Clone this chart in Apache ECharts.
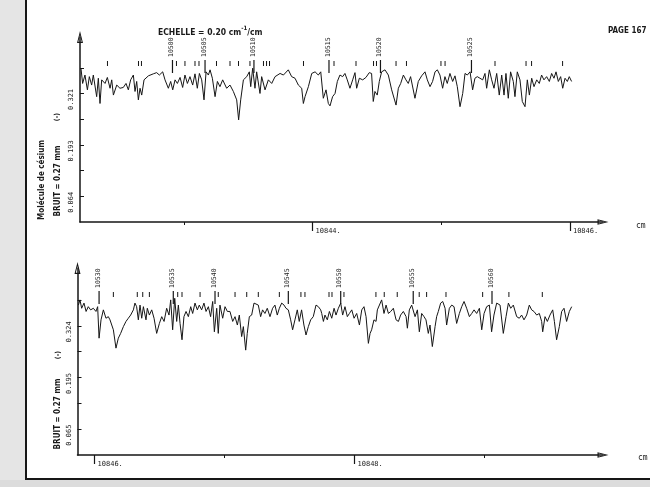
<!DOCTYPE html>
<html><head><meta charset="utf-8">
<script src="https://cdn.jsdelivr.net/npm/echarts@6/dist/echarts.min.js"></script>
<style>html,body{margin:0;padding:0;background:#fff}#c{width:650px;height:487px}</style>
</head><body><div id="c"></div>
<script>
// ---- data: wavenumber (cm-1), intensity ----
const topSpectrum = [[10842.201,0.384],[10842.214,0.346],[10842.232,0.367],[10842.251,0.330],[10842.266,0.363],[10842.284,0.342],[10842.297,0.367],[10842.323,0.313],[10842.336,0.359],[10842.349,0.296],[10842.362,0.355],[10842.388,0.346],[10842.406,0.361],[10842.427,0.334],[10842.440,0.355],[10842.453,0.317],[10842.479,0.342],[10842.504,0.334],[10842.530,0.336],[10842.551,0.346],[10842.569,0.330],[10842.587,0.355],[10842.608,0.367],[10842.621,0.326],[10842.634,0.351],[10842.647,0.305],[10842.660,0.334],[10842.673,0.317],[10842.691,0.355],[10842.725,0.365],[10842.763,0.370],[10842.789,0.373],[10842.810,0.367],[10842.836,0.375],[10842.854,0.355],[10842.880,0.334],[10842.898,0.351],[10842.914,0.330],[10842.932,0.355],[10842.950,0.346],[10842.971,0.361],[10842.991,0.336],[10843.009,0.367],[10843.028,0.346],[10843.048,0.363],[10843.069,0.342],[10843.087,0.370],[10843.105,0.334],[10843.121,0.371],[10843.139,0.355],[10843.157,0.305],[10843.173,0.375],[10843.191,0.367],[10843.204,0.380],[10843.222,0.359],[10843.243,0.313],[10843.261,0.351],[10843.281,0.338],[10843.302,0.355],[10843.333,0.334],[10843.359,0.342],[10843.385,0.326],[10843.411,0.305],[10843.426,0.255],[10843.442,0.305],[10843.463,0.355],[10843.489,0.363],[10843.509,0.375],[10843.520,0.338],[10843.535,0.384],[10843.553,0.334],[10843.566,0.375],[10843.592,0.321],[10843.605,0.363],[10843.631,0.330],[10843.657,0.355],[10843.683,0.346],[10843.709,0.363],[10843.748,0.371],[10843.774,0.367],[10843.812,0.380],[10843.838,0.363],[10843.864,0.359],[10843.890,0.342],[10843.916,0.334],[10843.929,0.296],[10843.942,0.313],[10843.968,0.338],[10843.994,0.371],[10844.020,0.375],[10844.045,0.367],[10844.064,0.375],[10844.084,0.309],[10844.105,0.330],[10844.123,0.296],[10844.136,0.290],[10844.156,0.313],[10844.175,0.321],[10844.193,0.351],[10844.213,0.367],[10844.234,0.363],[10844.252,0.371],[10844.270,0.355],[10844.291,0.334],[10844.312,0.355],[10844.330,0.373],[10844.343,0.334],[10844.364,0.359],[10844.390,0.355],[10844.415,0.361],[10844.441,0.373],[10844.459,0.371],[10844.472,0.301],[10844.485,0.326],[10844.503,0.317],[10844.519,0.351],[10844.537,0.375],[10844.563,0.380],[10844.589,0.367],[10844.615,0.330],[10844.649,0.292],[10844.667,0.334],[10844.685,0.346],[10844.706,0.367],[10844.726,0.355],[10844.744,0.346],[10844.762,0.363],[10844.796,0.309],[10844.822,0.351],[10844.848,0.365],[10844.874,0.375],[10844.892,0.355],[10844.913,0.338],[10844.933,0.351],[10844.952,0.375],[10844.970,0.380],[10844.990,0.367],[10845.011,0.334],[10845.029,0.363],[10845.047,0.346],[10845.068,0.371],[10845.089,0.351],[10845.107,0.365],[10845.125,0.338],[10845.146,0.288],[10845.167,0.321],[10845.185,0.371],[10845.203,0.367],[10845.224,0.375],[10845.244,0.330],[10845.262,0.359],[10845.280,0.363],[10845.301,0.359],[10845.322,0.355],[10845.340,0.371],[10845.353,0.334],[10845.374,0.380],[10845.392,0.355],[10845.410,0.334],[10845.431,0.371],[10845.451,0.317],[10845.470,0.367],[10845.488,0.317],[10845.503,0.371],[10845.521,0.309],[10845.539,0.375],[10845.560,0.351],[10845.573,0.313],[10845.591,0.375],[10845.612,0.355],[10845.630,0.301],[10845.651,0.288],[10845.669,0.355],[10845.685,0.317],[10845.703,0.359],[10845.721,0.338],[10845.742,0.355],[10845.762,0.346],[10845.780,0.367],[10845.798,0.355],[10845.819,0.363],[10845.840,0.351],[10845.858,0.371],[10845.876,0.359],[10845.892,0.375],[10845.910,0.351],[10845.928,0.363],[10845.944,0.334],[10845.962,0.359],[10845.980,0.351],[10845.995,0.363],[10846.013,0.351]];

const bottomSpectrum = [[10845.876,0.376],[10845.888,0.389],[10845.901,0.368],[10845.919,0.381],[10845.935,0.360],[10845.952,0.372],[10845.970,0.364],[10845.991,0.368],[10846.011,0.360],[10846.024,0.372],[10846.035,0.293],[10846.050,0.339],[10846.068,0.364],[10846.088,0.343],[10846.106,0.347],[10846.119,0.339],[10846.132,0.335],[10846.145,0.314],[10846.165,0.268],[10846.183,0.293],[10846.201,0.305],[10846.222,0.322],[10846.242,0.335],[10846.260,0.343],[10846.278,0.351],[10846.299,0.364],[10846.311,0.381],[10846.324,0.372],[10846.337,0.339],[10846.350,0.376],[10846.363,0.343],[10846.376,0.372],[10846.396,0.339],[10846.406,0.368],[10846.422,0.351],[10846.440,0.364],[10846.458,0.343],[10846.478,0.305],[10846.499,0.330],[10846.517,0.347],[10846.535,0.335],[10846.555,0.368],[10846.573,0.351],[10846.586,0.389],[10846.601,0.314],[10846.617,0.393],[10846.632,0.335],[10846.645,0.376],[10846.658,0.330],[10846.673,0.289],[10846.688,0.347],[10846.704,0.360],[10846.722,0.347],[10846.740,0.372],[10846.755,0.355],[10846.773,0.381],[10846.791,0.364],[10846.806,0.376],[10846.824,0.364],[10846.842,0.381],[10846.858,0.360],[10846.876,0.372],[10846.893,0.347],[10846.909,0.385],[10846.922,0.309],[10846.940,0.368],[10846.952,0.305],[10846.965,0.376],[10846.986,0.343],[10847.004,0.372],[10847.022,0.360],[10847.042,0.360],[10847.063,0.335],[10847.081,0.347],[10847.099,0.326],[10847.114,0.351],[10847.132,0.297],[10847.145,0.322],[10847.163,0.263],[10847.175,0.305],[10847.191,0.347],[10847.209,0.351],[10847.227,0.381],[10847.242,0.385],[10847.260,0.376],[10847.278,0.347],[10847.293,0.364],[10847.311,0.355],[10847.329,0.368],[10847.350,0.347],[10847.370,0.368],[10847.388,0.376],[10847.406,0.351],[10847.422,0.368],[10847.440,0.381],[10847.458,0.376],[10847.473,0.368],[10847.491,0.364],[10847.509,0.339],[10847.524,0.314],[10847.542,0.339],[10847.560,0.364],[10847.575,0.335],[10847.593,0.364],[10847.611,0.326],[10847.627,0.301],[10847.645,0.322],[10847.663,0.339],[10847.683,0.347],[10847.704,0.376],[10847.722,0.372],[10847.740,0.364],[10847.748,0.355],[10847.761,0.335],[10847.773,0.351],[10847.791,0.339],[10847.807,0.360],[10847.825,0.343],[10847.843,0.368],[10847.858,0.351],[10847.876,0.368],[10847.894,0.381],[10847.909,0.351],[10847.927,0.372],[10847.945,0.347],[10847.961,0.355],[10847.979,0.364],[10847.997,0.343],[10848.017,0.355],[10848.038,0.326],[10848.056,0.364],[10848.073,0.372],[10848.089,0.347],[10848.107,0.280],[10848.120,0.305],[10848.132,0.314],[10848.150,0.339],[10848.166,0.335],[10848.176,0.364],[10848.191,0.368],[10848.209,0.389],[10848.227,0.355],[10848.243,0.376],[10848.261,0.355],[10848.279,0.360],[10848.299,0.368],[10848.320,0.339],[10848.338,0.335],[10848.355,0.351],[10848.376,0.360],[10848.397,0.347],[10848.407,0.318],[10848.422,0.364],[10848.440,0.376],[10848.453,0.381],[10848.466,0.347],[10848.484,0.364],[10848.499,0.309],[10848.517,0.355],[10848.535,0.347],[10848.550,0.339],[10848.568,0.305],[10848.581,0.326],[10848.599,0.272],[10848.620,0.322],[10848.632,0.347],[10848.645,0.360],[10848.663,0.381],[10848.679,0.385],[10848.697,0.368],[10848.709,0.326],[10848.730,0.368],[10848.748,0.376],[10848.766,0.372],[10848.786,0.330],[10848.807,0.355],[10848.825,0.372],[10848.843,0.385],[10848.863,0.368],[10848.884,0.347],[10848.902,0.355],[10848.920,0.364],[10848.940,0.355],[10848.961,0.368],[10848.979,0.314],[10848.997,0.355],[10849.017,0.372],[10849.038,0.376],[10849.055,0.309],[10849.073,0.351],[10849.094,0.381],[10849.120,0.376],[10849.145,0.305],[10849.166,0.347],[10849.184,0.381],[10849.202,0.368],[10849.222,0.376],[10849.248,0.347],[10849.268,0.343],[10849.286,0.351],[10849.304,0.339],[10849.325,0.351],[10849.345,0.376],[10849.363,0.364],[10849.381,0.360],[10849.402,0.351],[10849.422,0.355],[10849.440,0.335],[10849.448,0.309],[10849.466,0.347],[10849.484,0.335],[10849.504,0.351],[10849.525,0.364],[10849.538,0.335],[10849.555,0.289],[10849.576,0.322],[10849.594,0.360],[10849.612,0.368],[10849.632,0.335],[10849.653,0.360],[10849.671,0.372]];

// line-position marks (cm-1)
const topMarks = [10842.407,10842.648,10842.671,10842.943,10843.009,10843.087,10843.118,10843.254,10843.359,10843.425,10843.514,10843.619,10843.643,10843.666,10843.930,10844.167,10844.338,10844.474,10844.497,10844.649,10844.730,10844.998,10845.030,10845.418,10845.659,10845.702,10845.943];
const topNumberedMarks = [10842.912,10843.165,10843.545,10844.128,10844.528,10845.235];
const topNumbers = ['10500','10505','10510','10515','10520','10525'];
const bottomMarks = [10846.145,10846.329,10846.371,10846.422,10846.640,10846.673,10846.812,10846.952,10847.081,10847.171,10847.260,10847.422,10847.588,10847.619,10847.804,10847.827,10847.919,10848.165,10848.229,10848.329,10848.498,10848.555,10848.704,10848.986,10849.188,10849.445];
const bottomNumberedMarks = [10846.035,10846.606,10846.927,10847.491,10847.894,10848.452,10849.058];
const bottomNumbers = ['10530','10535','10540','10545','10550','10555','10560'];

// axes
const topXRange = [10842.1935, 10846.257];
const bottomXRange = [10845.869, 10849.912];
const topXMajor = [10844, 10846];
const topXMinor = [10843, 10845];
const bottomXMajor = [10846, 10848];
const bottomXMinor = [10847, 10849];
const topYMax = 0.462, bottomYMax = 0.469;
const topYTicks = [0.0642,0.1284,0.1926,0.2568,0.321,0.3852];
const topYLabelValues = [0.0642,0.1926,0.321];
const topYLabelText = ['0.064','0.193','0.321'];
const bottomYTicks = [0.0648,0.1296,0.1944,0.2592,0.324,0.3888];
const bottomYLabelValues = [0.0648,0.1944,0.324];
const bottomYLabelText = ['0.065','0.195','0.324'];

const INK = '#161616';
const MONO = '"DejaVu Sans Mono", monospace';
const SANS = '"DejaVu Sans Condensed", "DejaVu Sans", sans-serif';
const ARROW = 'path://M5,0L10,20L0,20Z M5,6.5L2.2,17.8L7.8,17.8Z';

function xAxes(grid, range, major, minor) {
  return [{
    type: 'value', gridIndex: grid, position: 'bottom', min: range[0], max: range[1],
    axisLine: { show: true, onZero: false, symbol: ['none', ARROW], symbolSize: [7, 11], lineStyle: { color: INK, width: 1.5 } },
    axisTick: { show: true, customValues: major, length: 9, lineStyle: { color: INK, width: 1.2 } },
    axisLabel: { show: true, customValues: major, formatter: v => v + '.', align: 'left', margin: 6, padding: [0, 0, 0, 3], fontSize: 7, fontFamily: MONO, color: '#222' },
    splitLine: { show: false }
  }, {
    type: 'value', gridIndex: grid, position: 'bottom', min: range[0], max: range[1],
    axisLine: { show: false },
    axisTick: { show: true, customValues: minor, length: 3, lineStyle: { color: INK, width: 1 } },
    axisLabel: { show: false }, splitLine: { show: false }
  }];
}
function yAxis(grid, max, ticks, lv, lt) {
  return {
    type: 'value', gridIndex: grid, min: 0, max: max,
    axisLine: { show: true, onZero: false, symbol: ['none', ARROW], symbolSize: [7, 12], lineStyle: { color: INK, width: 1.5 } },
    axisTick: { show: true, customValues: ticks, inside: true, length: 4, lineStyle: { color: INK, width: 1 } },
    axisLabel: { show: true, customValues: lv, formatter: v => { const i = lv.indexOf(v); return i >= 0 ? lt[i] : ''; }, rotate: 90, margin: 5, padding: [0, 12, 0, 0], fontSize: 7, fontFamily: MONO, color: '#222' },
    splitLine: { show: false }
  };
}
function shortMark(params, api) {
  const x = api.coord([api.value(0), 0])[0];
  const t = params.coordSys.y;
  return { type: 'line', shape: { x1: x, y1: t + 24, x2: x, y2: t + 29 }, style: { stroke: INK, lineWidth: 1 } };
}
function numberedMark(names) {
  return function (params, api) {
    const x = api.coord([api.value(0), 0])[0];
    const t = params.coordSys.y;
    return { type: 'group', children: [
      { type: 'line', shape: { x1: x, y1: t + 23, x2: x, y2: t + 36 }, style: { stroke: INK, lineWidth: 1.2 } },
      { type: 'text', x: x - 1, y: t + 20, rotation: Math.PI / 2, style: { text: names[params.dataIndex], fontSize: 6.5, fontFamily: MONO, fill: '#222', align: 'left', verticalAlign: 'middle' } }
    ] };
  };
}
function rotText(x, y, text, size, bold) {
  return { type: 'text', x: x, y: y, rotation: Math.PI / 2, style: { text: text, fontSize: size, fontWeight: bold ? 'bold' : 'normal', fontFamily: SANS, fill: '#1a1a1a', align: 'center', verticalAlign: 'middle' } };
}

const chart = echarts.init(document.getElementById('c'), null, { renderer: 'canvas' });
chart.setOption({
  animation: false,
  backgroundColor: '#ffffff',
  grid: [
    { left: 80, top: 37, width: 523, height: 185 },
    { left: 77.5, top: 268, width: 525.5, height: 187 }
  ],
  xAxis: [].concat(xAxes(0, topXRange, topXMajor, topXMinor), xAxes(1, bottomXRange, bottomXMajor, bottomXMinor)),
  yAxis: [
    yAxis(0, topYMax, topYTicks, topYLabelValues, topYLabelText),
    yAxis(1, bottomYMax, bottomYTicks, bottomYLabelValues, bottomYLabelText)
  ],
  series: [
    { type: 'line', xAxisIndex: 0, yAxisIndex: 0, data: topSpectrum, symbol: 'none', lineStyle: { color: INK, width: 1 }, z: 3 },
    { type: 'line', xAxisIndex: 2, yAxisIndex: 1, data: bottomSpectrum, symbol: 'none', lineStyle: { color: INK, width: 1 }, z: 3 },
    { type: 'custom', xAxisIndex: 0, yAxisIndex: 0, data: topMarks.map(w => [w, 0]), renderItem: shortMark },
    { type: 'custom', xAxisIndex: 0, yAxisIndex: 0, data: topNumberedMarks.map(w => [w, 0]), renderItem: numberedMark(topNumbers) },
    { type: 'custom', xAxisIndex: 2, yAxisIndex: 1, data: bottomMarks.map(w => [w, 0]), renderItem: shortMark },
    { type: 'custom', xAxisIndex: 2, yAxisIndex: 1, data: bottomNumberedMarks.map(w => [w, 0]), renderItem: numberedMark(bottomNumbers) }
  ],
  graphic: [
    { type: 'rect', shape: { x: 0, y: 0, width: 25, height: 487 }, style: { fill: '#e5e5e5' }, z: -10 },
    { type: 'rect', shape: { x: 0, y: 480, width: 650, height: 7 }, style: { fill: '#dcdcdc' }, z: -10 },
    { type: 'line', shape: { x1: 26, y1: 0, x2: 26, y2: 480 }, style: { stroke: INK, lineWidth: 2 } },
    { type: 'line', shape: { x1: 25, y1: 479, x2: 650, y2: 479 }, style: { stroke: INK, lineWidth: 2 } },
    { type: 'text', x: 158, y: 25, style: { text: '{a|ECHELLE = 0.20 cm}{s|-1}{a|/cm}', rich: { a: { fontSize: 8.5, fontWeight: 'bold', fontFamily: SANS, fill: '#1a1a1a', lineHeight: 12, verticalAlign: 'bottom' }, s: { fontSize: 6, fontWeight: 'bold', fontFamily: SANS, fill: '#1a1a1a', lineHeight: 12, verticalAlign: 'top' } } } },
    { type: 'text', x: 608, y: 27, style: { text: 'PAGE 167', fontSize: 8, fontWeight: 'bold', fontFamily: SANS, fill: '#1a1a1a' } },
    { type: 'text', x: 636, y: 222, style: { text: 'cm', fontSize: 8, fontFamily: MONO, fill: '#1a1a1a' } },
    { type: 'text', x: 638, y: 454, style: { text: 'cm', fontSize: 8, fontFamily: MONO, fill: '#1a1a1a' } },
    rotText(42, 180, 'Molécule de césium', 8, true),
    rotText(58, 181, 'BRUIT = 0.27 mm', 8, true),
    rotText(57, 117, '(-)', 7, true),
    rotText(58, 414, 'BRUIT = 0.27 mm', 8, true),
    rotText(58, 355, '(-)', 7, true)
  ]
});
</script>
</body></html>
